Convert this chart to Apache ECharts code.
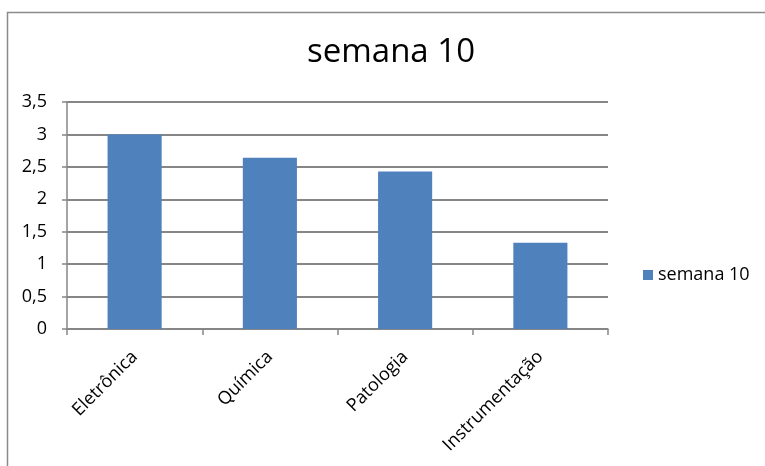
<!DOCTYPE html>
<html>
<head>
<meta charset="utf-8">
<script src="https://cdn.jsdelivr.net/npm/echarts@6/dist/echarts.min.js"></script>
<style>
html,body{margin:0;padding:0;background:#fff;}
#c{width:765px;height:466px;}
</style>
</head>
<body>
<div id="c"></div>
<script>
const categories = ['Eletrônica', 'Química', 'Patologia', 'Instrumentação'];
const seriesName = 'semana 10';
const values = [3.0, 2.64, 2.43, 1.33];
const yTicks = { min: 0, max: 3.5, interval: 0.5 };

const chart = echarts.init(document.getElementById('c'), null, { renderer: 'canvas' });
const font = '"Open Sans", "Noto Sans", sans-serif';
chart.setOption({
  animation: false,
  backgroundColor: '#ffffff',
  graphic: [{
    type: 'rect',
    shape: { x: 7.5, y: 12.5, width: 800, height: 500 },
    style: { fill: 'none', stroke: '#8a8a8a', lineWidth: 1.5 },
    silent: true
  }],
  title: {
    text: seriesName,
    left: 386, top: 31, textAlign: 'center',
    textStyle: { fontFamily: font, fontSize: 33, fontWeight: 'normal', color: '#000' }
  },
  legend: {
    left: 638, top: 261,
    itemWidth: 10, itemHeight: 10,
    icon: 'rect',
    textStyle: { fontFamily: font, fontSize: 18, color: '#000' },
    data: [seriesName]
  },
  grid: { left: 67, right: 157, top: 102, bottom: 137, containLabel: false },
  xAxis: {
    type: 'category',
    data: categories,
    axisLine: { lineStyle: { color: '#868686', width: 1.5 } },
    axisTick: { show: true, length: 6, lineStyle: { color: '#868686', width: 1.5 } },
    axisLabel: { rotate: 45, fontFamily: font, fontSize: 18, color: '#000', margin: 25 }
  },
  yAxis: {
    type: 'value',
    min: yTicks.min, max: yTicks.max, interval: yTicks.interval,
    axisLine: { show: true, lineStyle: { color: '#868686', width: 1.5 } },
    axisTick: { show: true, length: 5, lineStyle: { color: '#868686', width: 1.5 } },
    splitLine: { lineStyle: { color: '#868686', width: 2 } },
    axisLabel: {
      fontFamily: font, fontSize: 18, color: '#000', margin: 20,
      formatter: v => String(v).replace('.', ',')
    }
  },
  series: [{
    name: seriesName,
    type: 'bar',
    data: values,
    barWidth: '40%',
    itemStyle: { color: '#4f81bd' }
  }]
});
</script>
</body>
</html>
